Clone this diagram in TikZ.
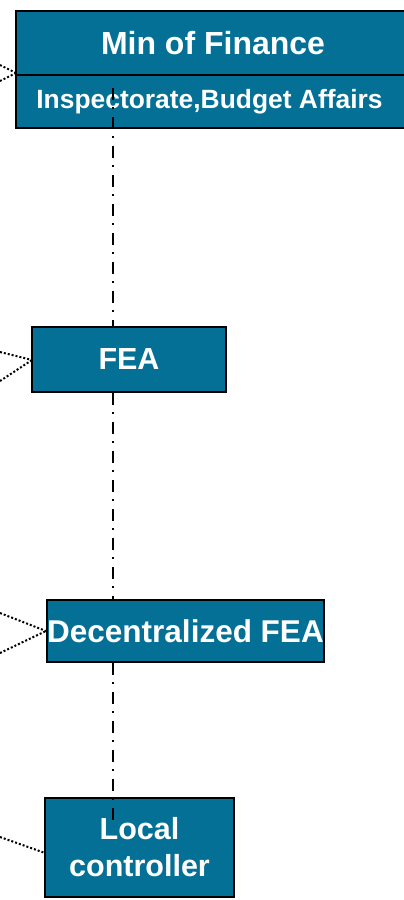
\documentclass[tikz,border=0pt]{standalone}
\usepackage{fontspec}
\setmainfont{Liberation Sans}
\definecolor{boxblue}{RGB}{4,112,150}
\tikzset{
  unit/.style={draw=black, line width=2.5pt, fill=boxblue, text=white,
    font=\bfseries\fontsize{30.5}{37}\selectfont, inner sep=0pt, align=center},
  link/.style={line width=2.2pt, dash pattern=on 12pt off 7pt on 2pt off 8pt},
  feed/.style={line width=2pt, dash pattern=on 2pt off 2pt}
}
\begin{document}
\begin{tikzpicture}[x=1pt, y=-1pt]
\useasboundingbox (0,0) rectangle (404,900);
\clip (0,0) rectangle (404,900);

% ministry block with its sub-division
\node[unit, minimum width=394pt, minimum height=64pt,
      font=\bfseries\fontsize{32}{37}\selectfont] (minf) at (213,43) {Min of Finance};
\node[unit, minimum width=394pt, minimum height=53pt,
      font=\bfseries\fontsize{26.4}{30}\selectfont] (insp) at (213,101.5) {\hspace*{-7pt}Inspectorate,Budget Affairs};

% lower levels
\node[unit, minimum width=194pt, minimum height=65pt] (fea) at (129,359.5) {FEA};
\node[unit, minimum width=275pt, minimum height=62pt,
      font=\bfseries\fontsize{31.5}{37}\selectfont] (dec) at (185.5,631) {Decentralized FEA};
\node[unit, minimum width=189pt, minimum height=99pt] (loc) at (139.5,847.5) {Local\\controller};

% vertical reporting line
\coordinate (top) at (113,88);
\coordinate (bot) at (113,822);
\draw[link] (top) -- (top |- fea.north);
\draw[link] (top |- fea.south) -- (top |- dec.north);
\draw[link] (top |- dec.south) -- (bot);

% incoming dotted links from the left
\coordinate (m1) at (0,65);
\coordinate (m2) at (0,81);
\coordinate (mj) at (16,73);
\draw[feed] (m1) -- (mj);
\draw[feed] (m2) -- (mj);

\coordinate (f1) at (0,352);
\coordinate (f2) at (0,381);
\coordinate (fj) at (32,360);
\draw[feed] (f1) -- (fj);
\draw[feed] (f2) -- (fj);

\coordinate (d1) at (0,613);
\coordinate (d2) at (0,653);
\draw[feed] (d1) -- (dec.west);
\draw[feed] (d2) -- (dec.west);

\coordinate (l1) at (0,837);
\coordinate (lj) at (45,853);
\draw[feed] (l1) -- (lj);
\end{tikzpicture}
\end{document}
